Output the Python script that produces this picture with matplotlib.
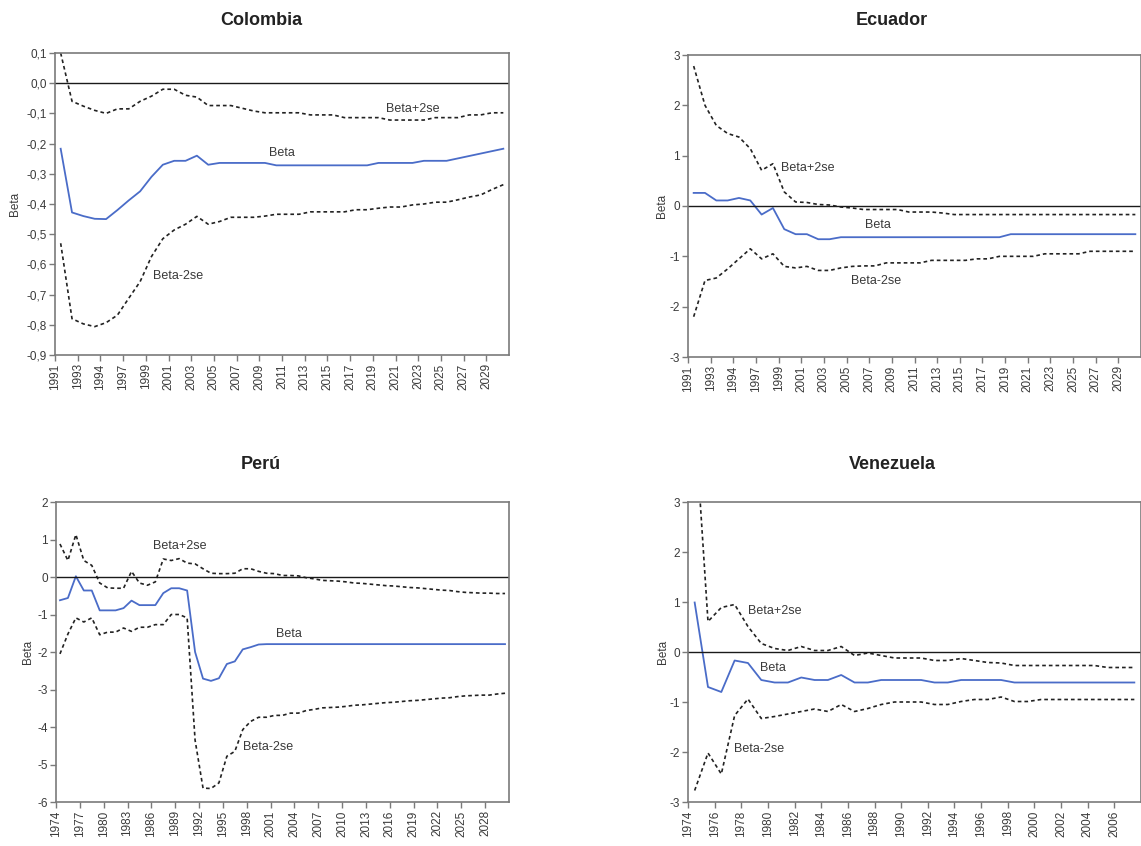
import numpy as np
import matplotlib.pyplot as plt

plt.rcParams['font.family'] = ['Liberation Sans', 'DejaVu Sans']
plt.rcParams['axes.unicode_minus'] = False

# Colombia (40 periodos)
col_beta = [-0.217, -0.428, -0.44, -0.449, -0.45, -0.42, -0.388, -0.358, -0.31, -0.27,
            -0.257, -0.257, -0.24, -0.27, -0.264, -0.264, -0.264, -0.264, -0.264, -0.272,
            -0.272, -0.272, -0.272, -0.272, -0.272, -0.272, -0.272, -0.272, -0.264, -0.264,
            -0.264, -0.264, -0.257, -0.257, -0.257, -0.249, -0.241, -0.233, -0.225, -0.217]
col_up = [0.1, -0.06, -0.076, -0.09, -0.10, -0.085, -0.085, -0.06, -0.043, -0.02,
          -0.02, -0.04, -0.046, -0.074, -0.074, -0.074, -0.083, -0.092, -0.098, -0.098,
          -0.098, -0.098, -0.105, -0.105, -0.105, -0.114, -0.114, -0.114, -0.114, -0.122,
          -0.122, -0.122, -0.122, -0.114, -0.114, -0.114, -0.105, -0.105, -0.098, -0.098]
col_lo = [-0.53, -0.78, -0.797, -0.806, -0.793, -0.768, -0.712, -0.657, -0.574, -0.515,
          -0.486, -0.467, -0.441, -0.467, -0.458, -0.444, -0.444, -0.444, -0.44, -0.434,
          -0.434, -0.434, -0.426, -0.426, -0.426, -0.426, -0.419, -0.419, -0.414, -0.41,
          -0.41, -0.403, -0.40, -0.394, -0.394, -0.386, -0.377, -0.37, -0.352, -0.336]
col_labels = ['1991', '1993', '1994', '1997', '1999'] + [str(y) for y in range(2001, 2030, 2)]

# Ecuador (40 periodos)
ecu_beta = [0.26, 0.26, 0.11, 0.11, 0.16, 0.11, -0.17, -0.04, -0.46, -0.56,
            -0.56, -0.66, -0.66] + [-0.62] * 15 + [-0.56] * 12
ecu_up = [2.78, 2.0, 1.6, 1.44, 1.37, 1.14, 0.71, 0.84, 0.28, 0.08,
          0.07, 0.03, 0.02, -0.02, -0.04, -0.07, -0.07, -0.07, -0.07, -0.12,
          -0.12, -0.12, -0.14] + [-0.17] * 17
ecu_lo = [-2.2, -1.48, -1.43, -1.25, -1.05, -0.85, -1.05, -0.95, -1.2, -1.23,
          -1.2, -1.28, -1.28, -1.23, -1.2, -1.19, -1.19, -1.13, -1.13, -1.13,
          -1.13, -1.08, -1.08, -1.08, -1.08, -1.05, -1.05, -1.0, -1.0, -1.0,
          -1.0, -0.95, -0.95, -0.95, -0.95, -0.9, -0.9, -0.9, -0.9, -0.9]
ecu_labels = col_labels

# Perú (57 periodos)
per_beta = [-0.62, -0.56, 0.02, -0.36, -0.36, -0.89, -0.89, -0.89, -0.83, -0.63,
            -0.75, -0.75, -0.75, -0.43, -0.30, -0.30, -0.36, -2.0, -2.71, -2.77,
            -2.70, -2.32, -2.25, -1.93, -1.87, -1.80] + [-1.79] * 31
per_up = [0.88, 0.44, 1.13, 0.44, 0.31, -0.16, -0.29, -0.30, -0.30, 0.15,
          -0.16, -0.22, -0.13, 0.48, 0.44, 0.49, 0.37, 0.35, 0.22, 0.10,
          0.09, 0.09, 0.10, 0.22, 0.22, 0.15, 0.10, 0.09, 0.04, 0.04,
          0.03, -0.02, -0.05, -0.09, -0.10, -0.11, -0.13, -0.16, -0.17, -0.19,
          -0.21, -0.23, -0.24, -0.26, -0.28, -0.29, -0.31, -0.33, -0.35, -0.36,
          -0.39, -0.41, -0.42, -0.43, -0.43, -0.44, -0.44]
per_lo = [-2.05, -1.52, -1.09, -1.2, -1.09, -1.54, -1.47, -1.47, -1.36, -1.45,
          -1.34, -1.34, -1.27, -1.27, -1.0, -1.0, -1.09, -4.35, -5.63, -5.64,
          -5.49, -4.78, -4.65, -4.07, -3.85, -3.74, -3.74, -3.69, -3.69, -3.63,
          -3.63, -3.56, -3.53, -3.49, -3.48, -3.47, -3.45, -3.42, -3.41, -3.39,
          -3.37, -3.35, -3.34, -3.32, -3.30, -3.29, -3.27, -3.25, -3.23, -3.22,
          -3.19, -3.17, -3.16, -3.15, -3.15, -3.12, -3.10]
per_labels = [str(y) for y in range(1974, 2029, 3)]

# Venezuela (34 periodos)
ven_beta = [0.99, -0.70, -0.80, -0.17, -0.22, -0.56, -0.61, -0.61, -0.51, -0.56,
            -0.56, -0.46, -0.61, -0.61, -0.56, -0.56, -0.56, -0.56, -0.61, -0.61,
            -0.56, -0.56, -0.56, -0.56] + [-0.61] * 10
ven_up = [4.7, 0.61, 0.89, 0.95, 0.51, 0.17, 0.07, 0.03, 0.11, 0.03,
          0.03, 0.11, -0.07, -0.02, -0.07, -0.12, -0.12, -0.12, -0.17, -0.17,
          -0.13, -0.17, -0.21, -0.22] + [-0.27] * 7 + [-0.31] * 3
ven_lo = [-2.77, -2.02, -2.44, -1.27, -0.94, -1.33, -1.29, -1.24, -1.19, -1.14,
          -1.19, -1.05, -1.19, -1.13, -1.05, -1.0, -1.0, -1.0, -1.05, -1.05,
          -0.99, -0.95, -0.95, -0.9, -0.99, -0.99] + [-0.95] * 8
ven_labels = [str(y) for y in range(1974, 2007, 2)]

W, H = 1141, 846
fig = plt.figure(figsize=(W / 100, H / 100), dpi=100)

FRAME = '#7a7a7a'
TXT = '#3a3a3a'
BLUE = '#4a6cc8'


def panel(rect, title, title_xy, beta, up, lo, labels, step, ylim, yticks, ytxt,
          ylab_x, notes):
    l, t, r, b = rect
    ax = fig.add_axes([l / W, 1 - b / H, (r - l) / W, (b - t) / H])
    n = len(beta)
    x = np.arange(n) + 0.5
    ax.plot(x, up, color='#222222', lw=1.2, dashes=(2.2, 1.8))
    ax.plot(x, lo, color='#222222', lw=1.2, dashes=(2.2, 1.8))
    ax.plot(x, beta, color=BLUE, lw=1.3)
    ax.axhline(0, color='#1a1a1a', lw=1.0)
    ax.set_xlim(0, n)
    ax.set_ylim(*ylim)
    ax.set_xticks(np.arange(0, n, step))
    ax.set_xticklabels(labels, rotation=90, fontsize=8.5, color=TXT)
    ax.set_yticks(yticks)
    ax.set_yticklabels(ytxt, fontsize=8.5, color=TXT)
    ax.tick_params(direction='out', length=4, width=1, color=FRAME, pad=2)
    for s in ax.spines.values():
        s.set_color(FRAME)
        s.set_linewidth(1.2)
    ax.text(ylab_x, 0.5, 'Beta', transform=ax.transAxes, rotation=90,
            ha='center', va='center', fontsize=8.5, color=TXT)
    for txt, xx, yy in notes:
        ax.text(xx, yy, txt, ha='center', va='center', fontsize=9, color=TXT)
    fig.text(title_xy[0] / W, 1 - title_xy[1] / H, title, ha='center',
             va='baseline', fontsize=13, fontweight='bold', color='#222222')
    return ax


col_ticks = np.round(np.arange(0.1, -0.95, -0.1), 1)
col_txt = [f'{v:.1f}'.replace('.', ',') for v in col_ticks]
col_txt = ['0,0' if s == '-0,0' else s for s in col_txt]

panel((55, 53, 509, 355), 'Colombia', (261, 25), col_beta, col_up, col_lo,
      col_labels, 2, (-0.9, 0.1), col_ticks, col_txt, -0.088,
      [('Beta+2se', 31.5, -0.085), ('Beta', 20.0, -0.23), ('Beta-2se', 10.8, -0.637)])

panel((688, 55, 1141, 357), 'Ecuador', (892, 25), ecu_beta, ecu_up, ecu_lo,
      ecu_labels, 2, (-3, 3), range(-3, 4), [str(v) for v in range(-3, 4)], -0.058,
      [('Beta+2se', 10.6, 0.76), ('Beta', 16.8, -0.38), ('Beta-2se', 16.6, -1.49)])

panel((56, 502, 509, 802), 'Perú', (261, 469), per_beta, per_up, per_lo,
      per_labels, 3, (-6, 2), range(-6, 3), [str(v) for v in range(-6, 3)], -0.062,
      [('Beta+2se', 15.6, 0.82), ('Beta', 29.3, -1.51), ('Beta-2se', 26.7, -4.52)])

panel((688, 502, 1141, 802), 'Venezuela', (892, 469), ven_beta, ven_up, ven_lo,
      ven_labels, 2, (-3, 3), range(-3, 4), [str(v) for v in range(-3, 4)], -0.056,
      [('Beta+2se', 6.5, 0.83), ('Beta', 6.4, -0.32), ('Beta-2se', 5.3, -1.93)])

fig.savefig('out.png', dpi=100)
